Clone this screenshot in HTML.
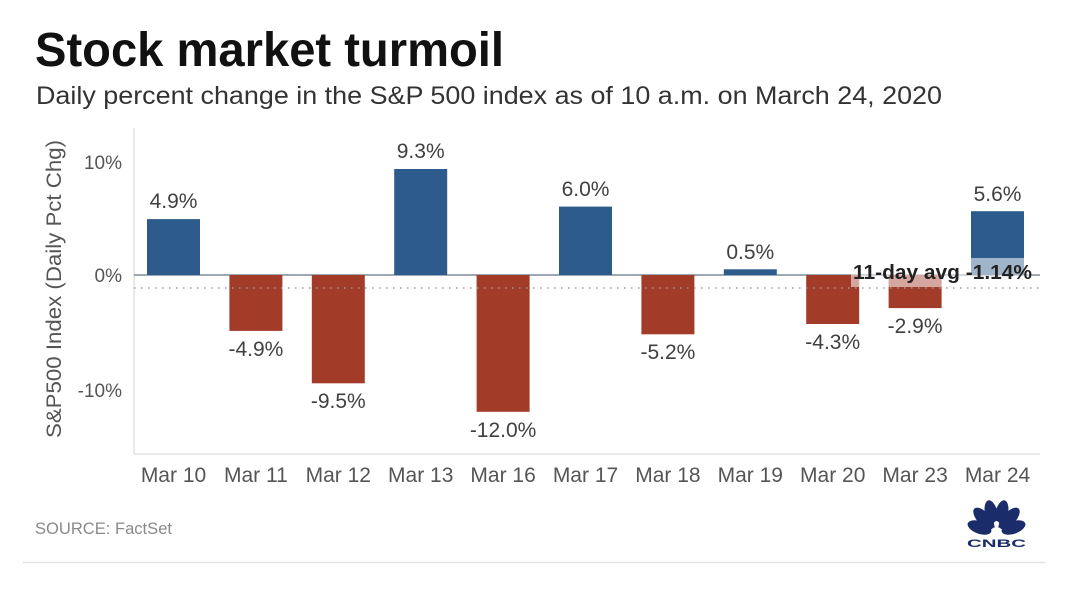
<!DOCTYPE html>
<html>
<head>
<meta charset="utf-8">
<style>
  html, body { margin: 0; padding: 0; background: #ffffff; }
  svg { display: block; }
  text { font-family: "Liberation Sans", Arial, sans-serif; }
</style>
</head>
<body>
<svg width="1080" height="593" viewBox="0 0 1080 593" xmlns="http://www.w3.org/2000/svg">
  <rect x="0" y="0" width="1080" height="593" fill="#ffffff"/>

  <!-- Title -->
  <text x="35" y="66" font-size="48" font-weight="bold" fill="#111111" textLength="469" lengthAdjust="spacingAndGlyphs">Stock market turmoil</text>
  <text x="36" y="104" font-size="25" fill="#333333" textLength="906" lengthAdjust="spacingAndGlyphs">Daily percent change in the S&amp;P 500 index as of 10 a.m. on March 24, 2020</text>

  <!-- Y axis title -->
  <text transform="translate(61,289) rotate(-90)" text-anchor="middle" font-size="21" fill="#555555" textLength="298" lengthAdjust="spacingAndGlyphs">S&amp;P500 Index (Daily Pct Chg)</text>

  <!-- Y tick labels -->
  <g font-size="19" fill="#555555" text-anchor="end">
    <text x="122" y="169">10%</text>
    <text x="122" y="282">0%</text>
    <text x="122" y="397">-10%</text>
  </g>

  <!-- Plot frame -->
  <line x1="134" y1="128" x2="134" y2="454" stroke="#e2e2e2" stroke-width="1.5"/>
  <line x1="134" y1="454" x2="1040" y2="454" stroke="#e2e2e2" stroke-width="1.5"/>

  <!-- Zero line -->
  <line x1="134" y1="275" x2="1040" y2="275" stroke="#7f8a99" stroke-width="1.5"/>

  <!-- Bars -->
  <g>
    <rect x="147"   y="219.1" width="53" height="55.9"  fill="#2d5b8b"/>
    <rect x="229.4" y="275"   width="53" height="55.9"  fill="#a23b28"/>
    <rect x="311.8" y="275"   width="53" height="108.3" fill="#a23b28"/>
    <rect x="394.2" y="169.0" width="53" height="106.0" fill="#2d5b8b"/>
    <rect x="476.6" y="275"   width="53" height="136.8" fill="#a23b28"/>
    <rect x="559.0" y="206.6" width="53" height="68.4"  fill="#2d5b8b"/>
    <rect x="641.4" y="275"   width="53" height="59.3"  fill="#a23b28"/>
    <rect x="723.8" y="269.3" width="53" height="5.7"   fill="#2d5b8b"/>
    <rect x="806.2" y="275"   width="53" height="49.0"  fill="#a23b28"/>
    <rect x="888.6" y="275"   width="53" height="33.1"  fill="#a23b28"/>
    <rect x="971.0" y="211.2" width="53" height="63.8"  fill="#2d5b8b"/>
  </g>

  <!-- Average dotted line -->
  <line x1="134" y1="288" x2="1040" y2="288" stroke="#9a9a9a" stroke-width="1.5" stroke-dasharray="1.5 5.5"/>

  <!-- Avg label with semi-transparent background -->
  <rect x="851" y="258" width="180" height="29" fill="#ffffff" fill-opacity="0.55"/>
  <text x="853" y="279" font-size="20" font-weight="bold" fill="#222222" textLength="179" lengthAdjust="spacingAndGlyphs">11-day avg -1.14%</text>

  <!-- Value labels -->
  <g font-size="21" fill="#404040" text-anchor="middle">
    <text x="173.5" y="208">4.9%</text>
    <text x="255.9" y="356">-4.9%</text>
    <text x="338.3" y="408">-9.5%</text>
    <text x="420.7" y="158">9.3%</text>
    <text x="503.1" y="437">-12.0%</text>
    <text x="585.5" y="196">6.0%</text>
    <text x="667.9" y="359">-5.2%</text>
    <text x="750.3" y="259">0.5%</text>
    <text x="832.7" y="349">-4.3%</text>
    <text x="915.1" y="333">-2.9%</text>
    <text x="997.5" y="201">5.6%</text>
  </g>

  <!-- Category labels -->
  <g font-size="21" fill="#555555" text-anchor="middle">
    <text x="173.5" y="482">Mar 10</text>
    <text x="255.9" y="482">Mar 11</text>
    <text x="338.3" y="482">Mar 12</text>
    <text x="420.7" y="482">Mar 13</text>
    <text x="503.1" y="482">Mar 16</text>
    <text x="585.5" y="482">Mar 17</text>
    <text x="667.9" y="482">Mar 18</text>
    <text x="750.3" y="482">Mar 19</text>
    <text x="832.7" y="482">Mar 20</text>
    <text x="915.1" y="482">Mar 23</text>
    <text x="997.5" y="482">Mar 24</text>
  </g>

  <!-- Source -->
  <text x="35" y="534" font-size="16.5" fill="#8a8a8a" textLength="137" lengthAdjust="spacingAndGlyphs">SOURCE: FactSet</text>

  <!-- Bottom separator -->
  <line x1="23" y1="562.5" x2="1045" y2="562.5" stroke="#e4e4e4" stroke-width="1.5"/>

  <!-- CNBC logo -->
  <g fill="#1b2c6b">
    <ellipse cx="979.5" cy="527.5" rx="6.2" ry="12.5" transform="rotate(-70 979.5 527.5)"/>
    <ellipse cx="983.5" cy="518.5" rx="6.4" ry="13.5" transform="rotate(-42 983.5 518.5)"/>
    <ellipse cx="991.5" cy="514" rx="6.4" ry="14" transform="rotate(-13 991.5 514)"/>
    <ellipse cx="1001.5" cy="514" rx="6.4" ry="14" transform="rotate(13 1001.5 514)"/>
    <ellipse cx="1009.5" cy="518.5" rx="6.4" ry="13.5" transform="rotate(42 1009.5 518.5)"/>
    <ellipse cx="1013.5" cy="527.5" rx="6.2" ry="12.5" transform="rotate(70 1013.5 527.5)"/>
  </g>
  <path d="M996.5 536 L993.8 523 Q996.5 519 999.2 523 Z" fill="#ffffff"/>
  <text x="967" y="547" font-size="11" font-weight="bold" fill="#1b2c6b" textLength="59" lengthAdjust="spacingAndGlyphs">CNBC</text>
</svg>
</body>
</html>
